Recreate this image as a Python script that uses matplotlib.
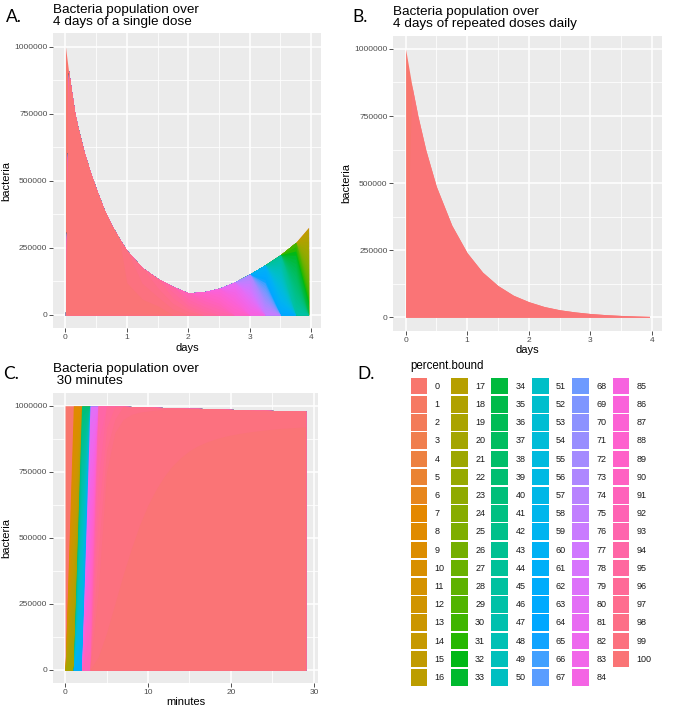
import numpy as np
import matplotlib
matplotlib.use('Agg')
import matplotlib.pyplot as plt
from matplotlib.patches import Rectangle

plt.rcParams['font.family'] = ['Liberation Sans', 'DejaVu Sans']

# ---------------- data ----------------
levels = list(range(101))          # percent.bound 0..100

# A: single dose, 4 days
A_days = [0, 0.05, 0.1, 0.15, 0.2, 0.3, 0.4, 0.5, 0.625, 0.75, 0.875, 1.0,
          1.25, 1.5, 1.75, 2.0, 2.25, 2.5, 2.75, 3.0, 3.25, 3.5, 3.75, 3.96]
A_total = [1000000, 910000, 830000, 755000, 700000, 610000, 535000, 470000,
           395000, 335000, 285000, 240000, 176000, 136000, 106000, 82000,
           86000, 99000, 122000, 152000, 186000, 224000, 270000, 326000]
A_top_level = [0, 100, 100, 100, 100, 100, 100, 100, 100, 100, 100, 99, 98,
               97, 95, 92, 89, 86, 81, 73, 60, 44, 30, 16]
A_bottom_level = [0, 100, 100, 100, 100, 100, 100, 100, 100, 100, 100, 100,
                  100, 100, 99, 98, 96, 94, 90, 85, 76, 64, 46, 34]

# B: repeated doses daily
B_days = [0, 0.1, 0.2, 0.33, 0.5, 0.75, 1.0, 1.25, 1.5, 1.75, 2.0, 2.25, 2.5,
          2.75, 3.0, 3.25, 3.5, 3.75, 3.96]
B_total = [1000000, 866000, 750000, 622000, 487000, 343000, 240000, 168000,
           118000, 82000, 58000, 40000, 28000, 20000, 14000, 9800, 6800,
           4800, 3500]
B_level = [0, 100, 100, 100, 100, 100, 100, 100, 100, 100, 100, 100, 100,
           100, 100, 100, 100, 100, 100]

# C: first 30 minutes
C_minutes = list(range(30))
C_total = [1000000, 1000000, 1000000, 1000000, 1000000, 999000, 998000,
           998000, 997000, 996000, 995000, 994000, 993000, 992000, 991000,
           990000, 990000, 989000, 988000, 987000, 986000, 985000, 984000,
           983000, 983000, 982000, 981000, 981000, 980000, 980000]
C_level100 = [0, 0, 0, 0, 50000, 140000, 250000, 360000, 460000, 550000,
              625000, 685000, 735000, 775000, 805000, 830000, 848000, 862000,
              873000, 882000, 889000, 895000, 900000, 904000, 908000, 911000,
              914000, 916000, 918000, 920000]
C_rest = [1000000, 1000000, 1000000, 1000000, 700000, 250000, 100000, 50000,
          30000, 20000, 15000, 10000, 7000, 5000, 3000, 0, 0, 0, 0, 0, 0, 0,
          0, 0, 0, 0, 0, 0, 0, 0]
C_rest_top = [0, 8, 40, 80, 94, 96, 97, 98, 98, 98, 98, 98, 98, 98, 98, 98,
              98, 98, 98, 98, 98, 98, 98, 98, 98, 98, 98, 98, 98, 98]
C_rest_bottom = [0, 20, 62, 92, 98, 98, 98, 98, 98, 98, 98, 98, 98, 98, 98,
                 98, 98, 98, 98, 98, 98, 98, 98, 98, 98, 98, 98, 98, 98, 98]

yticks = [0, 250000, 500000, 750000, 1000000]


# ggplot default hue palette (HCL, l=65, c=100)
def hue_colors(n):
    hues = np.linspace(15, 375, n + 1)[:-1]
    L, C = 65.0, 100.0
    Xn, Yn, Zn = 95.047, 100.0, 108.883
    un = 4 * Xn / (Xn + 15 * Yn + 3 * Zn)
    vn = 9 * Yn / (Xn + 15 * Yn + 3 * Zn)
    Y = Yn * ((L + 16) / 116) ** 3
    M = np.array([[3.2404542, -1.5371385, -0.4985314],
                  [-0.9692660, 1.8760108, 0.0415560],
                  [0.0556434, -0.2040259, 1.0572252]])
    out = []
    for h in hues:
        u = C * np.cos(np.radians(h))
        v = C * np.sin(np.radians(h))
        up = u / (13 * L) + un
        vp = v / (13 * L) + vn
        X = Y * 9 * up / (4 * vp)
        Z = Y * (12 - 3 * up - 20 * vp) / (4 * vp)
        lin = M @ np.array([X, Y, Z]) / 100
        rgb = np.where(lin <= 0.0031308, 12.92 * lin,
                       1.055 * np.abs(lin) ** (1 / 2.4) - 0.055)
        out.append(tuple(np.clip(rgb, 0, 1)))
    return out


colors = hue_colors(len(levels))


def stack_amounts(rest, top, bottom, fixed=None):
    amt = np.zeros((len(levels), len(rest)))
    for j in range(len(rest)):
        lv = np.arange(top[j], bottom[j] + 1)
        amt[lv, j] += rest[j] / len(lv)
    for lvl, vals in (fixed or {}).items():
        amt[lvl] += np.asarray(vals, float)
    return amt


def draw_stack(ax, x, amt):
    # level 100 sits at the bottom of the stack, level 0 on top
    cum = np.cumsum(amt[::-1], axis=0)[::-1]
    for L in levels:
        if amt[L].max() <= 0:
            continue
        ax.fill_between(x, 0, cum[L], color=colors[L], lw=0)


def style(ax, xticks, xminor, xlim, xlabel, title):
    ax.set_facecolor('#EBEBEB')
    ax.set_xlim(xlim)
    ax.set_ylim(-50000, 1050000)
    ax.set_xticks(xticks)
    ax.set_xticks(xminor, minor=True)
    ax.set_yticks(yticks)
    ax.set_yticklabels([str(t) for t in yticks])
    ax.set_yticks([125000, 375000, 625000, 875000], minor=True)
    ax.grid(which='major', color='white', lw=1.1)
    ax.grid(which='minor', color='white', lw=0.55)
    ax.set_axisbelow(True)
    ax.tick_params(which='minor', length=0)
    ax.tick_params(which='major', length=2.7, width=0.6, color='#333333',
                   labelsize=6, labelcolor='#4D4D4D', pad=1.5)
    for s in ax.spines.values():
        s.set_visible(False)
    ax.set_xlabel(xlabel, fontsize=8, labelpad=1)
    ax.set_ylabel('bacteria', fontsize=8, labelpad=2)
    ax.set_title(title, loc='left', fontsize=9.7, pad=6, linespacing=1.0)


W, H = 685, 709
fig = plt.figure(figsize=(W / 100, H / 100), dpi=100)


def px_axes(l, t, r, b):
    return fig.add_axes([l / W, 1 - b / H, (r - l) / W, (b - t) / H])


# A
axA = px_axes(53.3, 33.3, 320.7, 328.3)
draw_stack(axA, A_days, stack_amounts(A_total, A_top_level, A_bottom_level))
style(axA, [0, 1, 2, 3, 4], [0.5, 1.5, 2.5, 3.5], (-0.198, 4.158), 'days',
      'Bacteria population over\n4 days of a single dose')

# B
axB = px_axes(393.4, 35.5, 661.7, 330.7)
draw_stack(axB, B_days, stack_amounts(B_total, B_level, B_level))
style(axB, [0, 1, 2, 3, 4], [0.5, 1.5, 2.5, 3.5], (-0.198, 4.158), 'days',
      'Bacteria population over\n4 days of repeated doses daily')

# C
C_level99 = (np.array(C_total) - np.array(C_level100) - np.array(C_rest))
axC = px_axes(53, 392.5, 317.7, 683.2)
draw_stack(axC, C_minutes,
           stack_amounts(C_rest, C_rest_top, C_rest_bottom,
                         {100: C_level100, 99: C_level99}))
style(axC, [0, 10, 20, 30], [5, 15, 25], (-1.45, 30.45), 'minutes',
      'Bacteria population over\n 30 minutes')

# panel letters
for lab, x, y in [('A.', 6, 22), ('B.', 352.7, 22), ('C.', 2.7, 379.3),
                  ('D.', 357, 379)]:
    fig.text(x / W, 1 - y / H, lab, fontsize=12.5, va='baseline',
             family=['Lato', 'DejaVu Sans'])

# D: legend for percent.bound
ov = fig.add_axes([0, 0, 1, 1])
ov.set_xlim(0, W)
ov.set_ylim(H, 0)
ov.axis('off')
ov.text(410, 366, 'percent.bound', fontsize=8.3, va='center', ha='left')
for i in levels:
    col, row = divmod(i, 17)
    x0 = 410.7 + col * 40.4
    y0 = 377.7 + row * 18.2
    ov.add_patch(Rectangle((x0, y0), 16.7, 16.7, facecolor=colors[i],
                           edgecolor='none'))
    ov.text(x0 + 24, y0 + 8.6, str(i), fontsize=6.5, va='center',
            ha='left', color='#1A1A1A')

fig.savefig('out.png', dpi=100)
